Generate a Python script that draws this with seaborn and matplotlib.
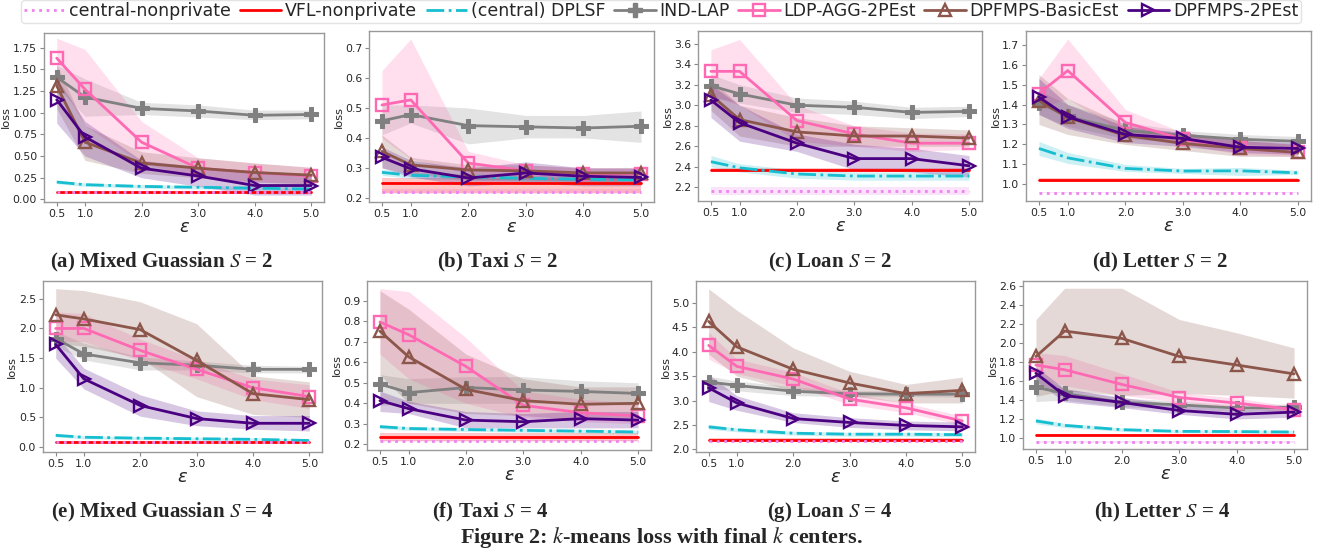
import numpy as np
import pandas as pd
import matplotlib
matplotlib.use("Agg")
import matplotlib.pyplot as plt
import seaborn as sns
from matplotlib.ticker import MultipleLocator, FormatStrFormatter

# ---------------- data ----------------
EPS = [0.5, 1.0, 2.0, 3.0, 4.0, 5.0]
EPS_LABELS = ["0.5", "1.0", "2.0", "3.0", "4.0", "5.0"]
KEYS = ["cn", "vfl", "dplsf", "ind", "ldp", "basic", "two"]
METHOD_NAMES = ["central-nonprivate", "VFL-nonprivate", "(central) DPLSF", "IND-LAP",
                "LDP-AGG-2PEst", "DPFMPS-BasicEst", "DPFMPS-2PEst"]
CAPTIONS = ["(a) Mixed Guassian $S$ = 2", "(b) Taxi $S$ = 2", "(c) Loan $S$ = 2", "(d) Letter $S$ = 2",
            "(e) Mixed Guassian $S$ = 4", "(f) Taxi $S$ = 4", "(g) Loan $S$ = 4", "(h) Letter $S$ = 4"]

# (a) Mixed Gaussian S=2
a_mean = dict(cn=[0.08, 0.08, 0.08, 0.08, 0.08, 0.08], vfl=[0.08, 0.08, 0.08, 0.08, 0.08, 0.08],
              dplsf=[0.20, 0.17, 0.15, 0.14, 0.13, 0.12], ind=[1.41, 1.18, 1.05, 1.02, 0.97, 0.98],
              ldp=[1.63, 1.27, 0.66, 0.36, 0.31, 0.27], basic=[1.31, 0.66, 0.42, 0.36, 0.31, 0.28],
              two=[1.15, 0.72, 0.36, 0.27, 0.16, 0.16])
a_lo = dict(cn=[0.07, 0.07, 0.07, 0.07, 0.07, 0.07], vfl=[0.07, 0.07, 0.07, 0.07, 0.07, 0.07],
            dplsf=[0.18, 0.15, 0.13, 0.12, 0.11, 0.10], ind=[1.30, 0.96, 0.98, 0.95, 0.92, 0.93],
            ldp=[1.40, 0.85, 0.42, 0.25, 0.20, 0.18], basic=[1.05, 0.45, 0.30, 0.25, 0.20, 0.18],
            two=[0.88, 0.50, 0.25, 0.15, 0.05, 0.05])
a_hi = dict(cn=[0.09, 0.09, 0.09, 0.09, 0.09, 0.09], vfl=[0.09, 0.09, 0.09, 0.09, 0.09, 0.09],
            dplsf=[0.22, 0.19, 0.17, 0.16, 0.15, 0.14], ind=[1.55, 1.39, 1.12, 1.09, 1.03, 1.03],
            ldp=[1.86, 1.73, 0.90, 0.48, 0.42, 0.37], basic=[1.55, 0.85, 0.55, 0.48, 0.42, 0.37],
            two=[1.40, 0.90, 0.45, 0.38, 0.30, 0.28])

# (b) Taxi S=2
b_mean = dict(cn=[0.22, 0.22, 0.22, 0.22, 0.22, 0.22], vfl=[0.25, 0.25, 0.25, 0.25, 0.25, 0.25],
              dplsf=[0.285, 0.275, 0.27, 0.265, 0.262, 0.26], ind=[0.457, 0.478, 0.441, 0.437, 0.433, 0.439],
              ldp=[0.51, 0.527, 0.316, 0.29, 0.28, 0.28], basic=[0.355, 0.31, 0.293, 0.29, 0.283, 0.283],
              two=[0.335, 0.297, 0.266, 0.283, 0.272, 0.268])
b_lo = dict(cn=[0.212, 0.212, 0.212, 0.212, 0.212, 0.212], vfl=[0.215, 0.215, 0.215, 0.215, 0.215, 0.215],
            dplsf=[0.275, 0.265, 0.26, 0.255, 0.252, 0.25], ind=[0.41, 0.45, 0.38, 0.40, 0.40, 0.385],
            ldp=[0.40, 0.33, 0.28, 0.27, 0.26, 0.26], basic=[0.30, 0.28, 0.26, 0.26, 0.255, 0.255],
            two=[0.30, 0.27, 0.24, 0.25, 0.24, 0.24])
b_hi = dict(cn=[0.228, 0.228, 0.228, 0.228, 0.228, 0.228], vfl=[0.265, 0.265, 0.265, 0.265, 0.265, 0.265],
            dplsf=[0.295, 0.285, 0.28, 0.275, 0.272, 0.27], ind=[0.51, 0.51, 0.50, 0.475, 0.475, 0.49],
            ldp=[0.625, 0.73, 0.355, 0.31, 0.30, 0.30], basic=[0.41, 0.335, 0.31, 0.31, 0.30, 0.30],
            two=[0.37, 0.325, 0.30, 0.32, 0.30, 0.30])

# (c) Loan S=2
c_mean = dict(cn=[2.165, 2.165, 2.165, 2.165, 2.165, 2.165], vfl=[2.37, 2.37, 2.37, 2.37, 2.37, 2.37],
              dplsf=[2.45, 2.39, 2.33, 2.31, 2.31, 2.31], ind=[3.19, 3.11, 3.00, 2.98, 2.93, 2.94],
              ldp=[3.33, 3.33, 2.85, 2.72, 2.63, 2.63], basic=[3.10, 2.86, 2.74, 2.70, 2.70, 2.68],
              two=[3.05, 2.83, 2.63, 2.48, 2.48, 2.41])
c_lo = dict(cn=[2.13, 2.13, 2.13, 2.13, 2.13, 2.13], vfl=[2.36, 2.36, 2.36, 2.36, 2.36, 2.36],
            dplsf=[2.40, 2.35, 2.29, 2.27, 2.27, 2.27], ind=[3.08, 3.02, 2.93, 2.91, 2.87, 2.89],
            ldp=[3.10, 3.00, 2.65, 2.60, 2.55, 2.57], basic=[2.95, 2.70, 2.60, 2.60, 2.60, 2.60],
            two=[2.88, 2.65, 2.55, 2.37, 2.35, 2.30])
c_hi = dict(cn=[2.20, 2.20, 2.20, 2.20, 2.20, 2.20], vfl=[2.385, 2.385, 2.385, 2.385, 2.385, 2.385],
            dplsf=[2.51, 2.43, 2.37, 2.35, 2.35, 2.35], ind=[3.30, 3.20, 3.07, 3.04, 2.98, 2.99],
            ldp=[3.54, 3.64, 3.00, 2.80, 2.73, 2.72], basic=[3.25, 3.00, 2.88, 2.80, 2.78, 2.76],
            two=[3.20, 3.00, 2.72, 2.62, 2.58, 2.51])

# (d) Letter S=2
d_mean = dict(cn=[0.958, 0.958, 0.958, 0.958, 0.958, 0.958], vfl=[1.023, 1.023, 1.023, 1.023, 1.023, 1.023],
              dplsf=[1.18, 1.133, 1.08, 1.067, 1.068, 1.058], ind=[1.41, 1.34, 1.27, 1.246, 1.226, 1.216],
              ldp=[1.455, 1.57, 1.31, 1.226, 1.18, 1.16], basic=[1.42, 1.335, 1.245, 1.205, 1.18, 1.16],
              two=[1.437, 1.338, 1.25, 1.23, 1.186, 1.18])
d_lo = dict(cn=[0.955, 0.955, 0.955, 0.955, 0.955, 0.955], vfl=[1.017, 1.017, 1.017, 1.017, 1.017, 1.017],
            dplsf=[1.145, 1.105, 1.065, 1.055, 1.045, 1.05], ind=[1.35, 1.29, 1.23, 1.21, 1.20, 1.19],
            ldp=[1.38, 1.43, 1.25, 1.20, 1.15, 1.14], basic=[1.30, 1.25, 1.20, 1.17, 1.14, 1.14],
            two=[1.35, 1.28, 1.21, 1.19, 1.16, 1.15])
d_hi = dict(cn=[0.962, 0.962, 0.962, 0.962, 0.962, 0.962], vfl=[1.03, 1.03, 1.03, 1.03, 1.03, 1.03],
            dplsf=[1.215, 1.16, 1.10, 1.08, 1.085, 1.07], ind=[1.47, 1.40, 1.31, 1.27, 1.25, 1.24],
            ldp=[1.53, 1.728, 1.375, 1.26, 1.22, 1.20], basic=[1.55, 1.43, 1.30, 1.25, 1.22, 1.20],
            two=[1.53, 1.40, 1.29, 1.26, 1.22, 1.21])

# (e) Mixed Gaussian S=4
e_mean = dict(cn=[0.08, 0.08, 0.08, 0.08, 0.08, 0.08], vfl=[0.08, 0.08, 0.08, 0.08, 0.08, 0.08],
              dplsf=[0.197, 0.165, 0.15, 0.14, 0.13, 0.11], ind=[1.83, 1.57, 1.42, 1.38, 1.31, 1.31],
              ldp=[2.0, 2.0, 1.63, 1.31, 1.0, 0.85], basic=[2.23, 2.16, 1.98, 1.46, 0.90, 0.80],
              two=[1.73, 1.15, 0.70, 0.48, 0.40, 0.40])
e_lo = dict(cn=[0.07, 0.07, 0.07, 0.07, 0.07, 0.07], vfl=[0.07, 0.07, 0.07, 0.07, 0.07, 0.07],
            dplsf=[0.17, 0.14, 0.125, 0.115, 0.105, 0.085], ind=[1.70, 1.47, 1.30, 1.30, 1.25, 1.25],
            ldp=[1.78, 1.78, 1.45, 1.15, 0.80, 0.65], basic=[1.75, 1.70, 1.50, 0.85, 0.55, 0.50],
            two=[1.50, 0.98, 0.52, 0.36, 0.30, 0.27])
e_hi = dict(cn=[0.09, 0.09, 0.09, 0.09, 0.09, 0.09], vfl=[0.09, 0.09, 0.09, 0.09, 0.09, 0.09],
            dplsf=[0.225, 0.19, 0.175, 0.165, 0.155, 0.135], ind=[1.95, 1.75, 1.52, 1.45, 1.38, 1.36],
            ldp=[2.28, 2.25, 1.82, 1.47, 1.15, 1.05], basic=[2.67, 2.64, 2.45, 2.08, 1.20, 1.10],
            two=[1.90, 1.33, 0.88, 0.61, 0.53, 0.53])

# (f) Taxi S=4
f_mean = dict(cn=[0.216, 0.216, 0.216, 0.216, 0.216, 0.216], vfl=[0.237, 0.237, 0.237, 0.237, 0.237, 0.237],
              dplsf=[0.286, 0.277, 0.272, 0.268, 0.264, 0.26], ind=[0.494, 0.452, 0.477, 0.465, 0.458, 0.448],
              ldp=[0.797, 0.735, 0.58, 0.39, 0.354, 0.338], basic=[0.752, 0.627, 0.468, 0.413, 0.395, 0.40],
              two=[0.413, 0.374, 0.318, 0.31, 0.325, 0.318])
f_lo = dict(cn=[0.21, 0.21, 0.21, 0.21, 0.21, 0.21], vfl=[0.215, 0.215, 0.215, 0.215, 0.215, 0.215],
            dplsf=[0.276, 0.268, 0.263, 0.259, 0.255, 0.251], ind=[0.39, 0.40, 0.40, 0.40, 0.40, 0.39],
            ldp=[0.64, 0.52, 0.40, 0.33, 0.31, 0.30], basic=[0.54, 0.40, 0.35, 0.34, 0.32, 0.33],
            two=[0.36, 0.35, 0.28, 0.28, 0.28, 0.28])
f_hi = dict(cn=[0.222, 0.222, 0.222, 0.222, 0.222, 0.222], vfl=[0.255, 0.255, 0.255, 0.255, 0.255, 0.255],
            dplsf=[0.296, 0.286, 0.281, 0.277, 0.273, 0.269], ind=[0.54, 0.52, 0.53, 0.53, 0.51, 0.50],
            ldp=[0.96, 0.945, 0.72, 0.46, 0.42, 0.40], basic=[0.95, 0.86, 0.64, 0.52, 0.48, 0.48],
            two=[0.46, 0.41, 0.36, 0.35, 0.36, 0.36])

# (g) Loan S=4
g_mean = dict(cn=[2.17, 2.17, 2.17, 2.17, 2.17, 2.17], vfl=[2.20, 2.20, 2.20, 2.20, 2.20, 2.20],
              dplsf=[2.46, 2.40, 2.33, 2.31, 2.31, 2.30], ind=[3.38, 3.31, 3.19, 3.14, 3.13, 3.13],
              ldp=[4.13, 3.70, 3.44, 3.03, 2.85, 2.58], basic=[4.62, 4.10, 3.64, 3.36, 3.14, 3.21],
              two=[3.26, 2.95, 2.63, 2.55, 2.49, 2.46])
g_lo = dict(cn=[2.15, 2.15, 2.15, 2.15, 2.15, 2.15], vfl=[2.17, 2.17, 2.17, 2.17, 2.17, 2.17],
            dplsf=[2.41, 2.36, 2.29, 2.27, 2.27, 2.26], ind=[3.25, 3.20, 3.10, 3.08, 3.08, 3.07],
            ldp=[3.85, 3.55, 3.30, 2.92, 2.75, 2.50], basic=[3.95, 3.50, 3.20, 3.10, 2.95, 2.95],
            two=[2.98, 2.80, 2.55, 2.45, 2.40, 2.38])
g_hi = dict(cn=[2.19, 2.19, 2.19, 2.19, 2.19, 2.19], vfl=[2.23, 2.23, 2.23, 2.23, 2.23, 2.23],
            dplsf=[2.51, 2.44, 2.37, 2.35, 2.35, 2.34], ind=[3.50, 3.40, 3.28, 3.20, 3.20, 3.20],
            ldp=[4.40, 3.85, 3.58, 3.15, 2.95, 2.68], basic=[5.29, 4.85, 4.08, 3.60, 3.33, 3.48],
            two=[3.53, 3.10, 2.75, 2.65, 2.58, 2.56])

# (h) Letter S=4
h_mean = dict(cn=[0.958, 0.958, 0.958, 0.958, 0.958, 0.958], vfl=[1.035, 1.035, 1.035, 1.035, 1.035, 1.035],
              dplsf=[1.18, 1.133, 1.088, 1.07, 1.068, 1.063], ind=[1.536, 1.47, 1.375, 1.35, 1.315, 1.325],
              ldp=[1.77, 1.72, 1.565, 1.427, 1.368, 1.30], basic=[1.86, 2.128, 2.05, 1.86, 1.77, 1.676],
              two=[1.683, 1.448, 1.375, 1.29, 1.25, 1.273])
h_lo = dict(cn=[0.95, 0.95, 0.95, 0.95, 0.95, 0.95], vfl=[1.025, 1.025, 1.025, 1.025, 1.025, 1.025],
            dplsf=[1.15, 1.11, 1.07, 1.055, 1.05, 1.045], ind=[1.385, 1.40, 1.33, 1.31, 1.28, 1.29],
            ldp=[1.65, 1.55, 1.45, 1.38, 1.32, 1.27], basic=[1.44, 1.50, 1.45, 1.47, 1.45, 1.42],
            two=[1.60, 1.38, 1.32, 1.25, 1.20, 1.22])
h_hi = dict(cn=[0.965, 0.965, 0.965, 0.965, 0.965, 0.965], vfl=[1.045, 1.045, 1.045, 1.045, 1.045, 1.045],
            dplsf=[1.21, 1.155, 1.105, 1.085, 1.085, 1.08], ind=[1.68, 1.52, 1.42, 1.39, 1.35, 1.36],
            ldp=[1.90, 1.87, 1.68, 1.48, 1.42, 1.33], basic=[2.25, 2.58, 2.58, 2.25, 2.11, 1.95],
            two=[1.75, 1.52, 1.43, 1.35, 1.30, 1.32])

PANELS = [(a_mean, a_lo, a_hi), (b_mean, b_lo, b_hi), (c_mean, c_lo, c_hi), (d_mean, d_lo, d_hi),
          (e_mean, e_lo, e_hi), (f_mean, f_lo, f_hi), (g_mean, g_lo, g_hi), (h_mean, h_lo, h_hi)]

# ---------------- styles / layout ----------------
STYLE = {
    "cn": dict(color="#ee82ee", ls=":", marker=None, z=6),
    "vfl": dict(color="#ff0000", ls="-", marker=None, z=5),
    "dplsf": dict(color="#17becf", ls="-.", marker=None, z=5),
    "ind": dict(color="#808080", ls="-", marker="P", z=5),
    "ldp": dict(color="#ff69b4", ls="-", marker="s", z=5),
    "basic": dict(color="#8c564b", ls="-", marker="^", z=5),
    "two": dict(color="#4b0082", ls="-", marker=">", z=5),
}
YLIMS = [(-0.03, 1.92), (0.186, 0.757), (2.067, 3.723), (0.917, 1.768),
         (-0.084, 2.80), (0.172, 0.997), (1.945, 5.45), (0.884, 2.656)]
YSTEP = [0.25, 0.1, 0.2, 0.1, 0.5, 0.1, 0.5, 0.2]
YFMT = ["%.2f", "%.1f", "%.1f", "%.1f", "%.1f", "%.1f", "%.1f", "%.1f"]
BOXES = [(44, 33, 324, 202), (369, 31, 654, 202), (698, 31, 982, 201), (1026, 31, 1311, 201),
         (43, 281, 322, 452), (367, 281, 651, 450), (696, 281, 975, 452), (1023, 281, 1307, 449)]
CAP_POS = [(162, 262), (497, 262), (830, 262), (1160, 262),
           (162, 512), (490, 512), (830, 512), (1162, 512)]

W, H = 1322, 556
sns.set_style("white")
plt.rcParams["font.family"] = ["DejaVu Sans"]
plt.rcParams["mathtext.fontset"] = "stix"

rows = []
for p, (mean, lo, hi) in enumerate(PANELS):
    for k in KEYS:
        for i, e in enumerate(EPS):
            rows.append(dict(panel=p, method=k, eps=e, loss=mean[k][i], lo=lo[k][i], hi=hi[k][i]))
df = pd.DataFrame(rows)


def line_kw(st):
    kw = dict(color=st["color"], linestyle=st["ls"], linewidth=2.0)
    if st["marker"] == "P":
        kw.update(marker="P", markersize=9.5, markerfacecolor=st["color"], markeredgecolor=st["color"])
    elif st["marker"] is not None:
        kw.update(marker=st["marker"], markersize=8.5, markerfacecolor="none",
                  markeredgecolor=st["color"], markeredgewidth=1.7)
    return kw


fig = plt.figure(figsize=(W / 100, H / 100), dpi=100)
for p in range(8):
    l, t, r, b = BOXES[p]
    ax = fig.add_axes([l / W, 1 - b / H, (r - l) / W, (b - t) / H])
    for k, name in zip(KEYS, METHOD_NAMES):
        st = STYLE[k]
        sub = df[(df.panel == p) & (df.method == k)]
        ax.fill_between(sub.eps, sub.lo, sub.hi, color=st["color"], alpha=0.22, lw=0, zorder=2)
        sns.lineplot(data=sub, x="eps", y="loss", ax=ax, label=name, legend=False,
                     errorbar=None, zorder=st["z"], **line_kw(st))
    ax.set_xticks(EPS)
    ax.set_xticklabels(EPS_LABELS)
    ax.set_ylim(*YLIMS[p])
    ax.yaxis.set_major_locator(MultipleLocator(YSTEP[p]))
    ax.yaxis.set_major_formatter(FormatStrFormatter(YFMT[p]))
    ax.tick_params(axis="both", labelsize=7.8, length=3, width=0.8, color="#888888",
                   bottom=True, left=True, pad=2)
    for s in ax.spines.values():
        s.set_color("#999999")
        s.set_linewidth(1.0)
    ax.set_xlabel("ε", fontsize=13, fontstyle="italic", labelpad=-1)
    ax.set_ylabel("loss", fontsize=8.2, labelpad=1)
    cx, cy = CAP_POS[p]
    fig.text(cx / W, 1 - cy / H, CAPTIONS[p], ha="center", va="center",
             fontsize=15, fontweight="bold", family="Liberation Serif")

handles = [plt.Line2D([], [], label=name, **line_kw(STYLE[k])) for k, name in zip(KEYS, METHOD_NAMES)]
fig.legend(handles=handles, loc="center", bbox_to_anchor=(661 / W, 1 - 11.5 / H), ncol=7,
           fontsize=12.5, frameon=True, handlelength=2.4, handletextpad=0.2, columnspacing=0.5,
           borderpad=0.15, numpoints=1, edgecolor="#dddddd", fancybox=True)

fig.text(661 / W, 1 - 537 / H, "Figure 2: $k$-means loss with final $k$ centers.",
         ha="center", va="center", fontsize=16, fontweight="bold", family="Liberation Serif")

fig.savefig("out.png", dpi=100)
